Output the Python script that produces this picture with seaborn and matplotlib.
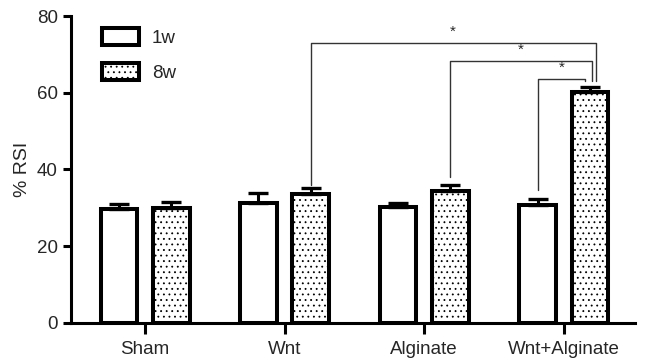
import numpy as np
import pandas as pd
import matplotlib
matplotlib.use("Agg")
import matplotlib.pyplot as plt
import seaborn as sns
from matplotlib.patches import Patch

groups = ["Sham", "Wnt", "Alginate", "Wnt+Alginate"]
times = ["1w", "8w"]
rsi_1w = [29.8, 31.2, 30.1, 30.7]
rsi_8w = [30.0, 33.6, 34.4, 60.2]
err_1w = [1.3, 2.6, 1.1, 1.6]
err_8w = [1.6, 1.5, 1.6, 1.2]

# significance brackets: (group index of left bar, hue of left bar, bracket height, left foot, right foot)
sig_left = [(1, 1), (2, 1), (3, 0)]
sig_height = [73.0, 68.3, 63.7]
sig_left_foot = [36.0, 38.1, 34.7]
sig_right_foot = [63.0, 63.0, 63.1]

sns.set_style("ticks")
plt.rcParams["font.family"] = ["Liberation Sans", "DejaVu Sans"]
plt.rcParams["hatch.linewidth"] = 0.6

df = pd.DataFrame({
    "group": groups * 2,
    "time": ["1w"] * 4 + ["8w"] * 4,
    "rsi": rsi_1w + rsi_8w,
})

fig = plt.figure(figsize=(6.46, 3.64), dpi=100)
ax = fig.add_axes([0.11, 0.113, 0.873, 0.843])

sns.barplot(data=df, x="group", y="rsi", hue="time", order=groups, hue_order=times,
            palette=["white", "white"], edgecolor="black", linewidth=2.9,
            width=0.75, gap=0.3, errorbar=None, legend=False, ax=ax)

centers = []
bar_conts = list(ax.containers)
for i, cont in enumerate(bar_conts):
    xs = [p.get_x() + p.get_width() / 2 for p in cont.patches]
    centers.append(xs)
    if i == 1:
        for p in cont.patches:
            p.set_hatch("...")
    vals = rsi_1w if i == 0 else rsi_8w
    errs = err_1w if i == 0 else err_8w
    ax.errorbar(xs, vals, yerr=[np.zeros(len(errs)), errs], fmt="none",
                ecolor="black", elinewidth=2.2, capsize=7, capthick=2.4, zorder=1)

right_x = centers[1][3]
shifts = [0.04, 0.012, -0.036]
for (g, h), top, lf, rf, s in zip(sig_left, sig_height, sig_left_foot, sig_right_foot, shifts):
    lx = centers[h][g]
    rx = right_x + s
    ax.plot([lx, lx, rx, rx], [lf, top, top, rf], color="#333333", lw=1.0)
    ax.text((lx + rx) / 2, top + 1.0, "*", ha="center", va="bottom", fontsize=11)

ax.set_ylim(0, 80)
ax.set_xlim(-0.53, 3.51)
ax.set_yticks([0, 20, 40, 60, 80])
ax.set_xlabel("")
ax.set_ylabel("% RSI", fontsize=14)
ax.tick_params(axis="both", labelsize=13.5, width=2.2, length=6, color="black")
ax.tick_params(axis="x", length=8, pad=5)
sns.despine(ax=ax)
for sp in ["left", "bottom"]:
    ax.spines[sp].set_linewidth(2.2)
    ax.spines[sp].set_color("black")

handles = [Patch(facecolor="white", edgecolor="black", linewidth=2.9),
           Patch(facecolor="white", edgecolor="black", linewidth=2.9, hatch="...")]
ax.legend(handles, times, loc="upper left", bbox_to_anchor=(0.025, 1.015), frameon=False,
          fontsize=13.5, handlelength=1.95, handleheight=1.0, labelspacing=0.85, handletextpad=0.7)

fig.savefig("out.png", dpi=100)
